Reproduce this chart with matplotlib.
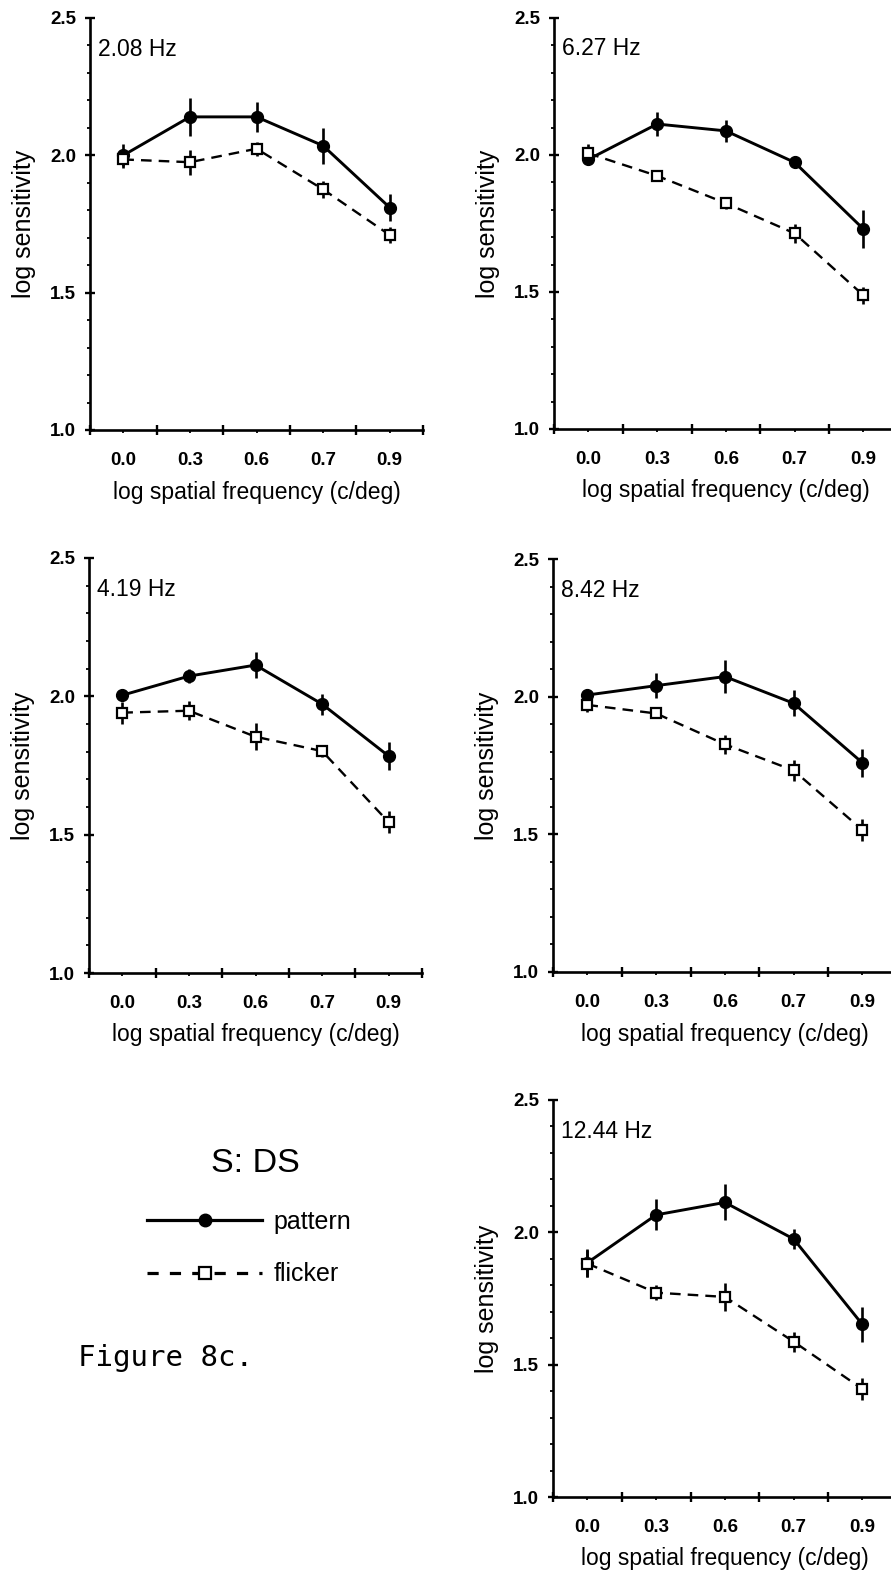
import matplotlib
matplotlib.use("Agg")
import matplotlib.pyplot as plt
from matplotlib.lines import Line2D
from matplotlib.ticker import FixedLocator, MultipleLocator, NullFormatter, FixedFormatter, FormatStrFormatter

plt.rcParams['font.family'] = ['Liberation Sans', 'DejaVu Sans']

# ---- data ----
sf_labels = ["0.0", "0.3", "0.6", "0.7", "0.9"]
panel_titles = ["2.08 Hz", "6.27 Hz", "4.19 Hz", "8.42 Hz", "12.44 Hz"]

pattern_208 = [2.00, 2.14, 2.14, 2.035, 1.81]
pattern_208_err = [0.04, 0.07, 0.055, 0.065, 0.05]
flicker_208 = [1.985, 1.975, 2.024, 1.876, 1.71]
flicker_208_err = [0.03, 0.045, 0.025, 0.03, 0.03]

pattern_627 = [1.984, 2.113, 2.088, 1.973, 1.73]
pattern_627_err = [0.02, 0.045, 0.04, 0.02, 0.07]
flicker_627 = [2.006, 1.924, 1.824, 1.714, 1.488]
flicker_627_err = [0.035, 0.015, 0.02, 0.035, 0.03]

pattern_419 = [2.004, 2.073, 2.113, 1.972, 1.784]
pattern_419_err = [0.02, 0.025, 0.048, 0.038, 0.05]
flicker_419 = [1.941, 1.948, 1.854, 1.802, 1.545]
flicker_419_err = [0.04, 0.035, 0.048, 0.02, 0.04]

pattern_842 = [2.006, 2.04, 2.073, 1.976, 1.76]
pattern_842_err = [0.015, 0.045, 0.06, 0.048, 0.05]
flicker_842 = [1.97, 1.939, 1.827, 1.732, 1.516]
flicker_842_err = [0.025, 0.015, 0.035, 0.038, 0.04]

pattern_1244 = [1.885, 2.066, 2.113, 1.975, 1.652]
pattern_1244_err = [0.053, 0.059, 0.068, 0.037, 0.065]
flicker_1244 = [1.882, 1.772, 1.756, 1.587, 1.408]
flicker_1244_err = [0.05, 0.028, 0.052, 0.038, 0.042]

W, H = 891, 1594
fig = plt.figure(figsize=(W / 100, H / 100), dpi=100)

LW_L = 333.0
LW_R = 343.75
panels = [
    (panel_titles[0], pattern_208, pattern_208_err, flicker_208, flicker_208_err, (90, 18, LW_L, 430)),
    (panel_titles[1], pattern_627, pattern_627_err, flicker_627, flicker_627_err, (554, 18, LW_R, 429)),
    (panel_titles[2], pattern_419, pattern_419_err, flicker_419, flicker_419_err, (89, 558, LW_L, 973)),
    (panel_titles[3], pattern_842, pattern_842_err, flicker_842, flicker_842_err, (553, 559, LW_R, 972)),
    (panel_titles[4], pattern_1244, pattern_1244_err, flicker_1244, flicker_1244_err, (553, 1100, LW_R, 1497)),
]

dash = (0, (4.5, 3.0))
xs = list(range(len(sf_labels)))

for title, pat, pat_e, fl, fl_e, (xl, yt, wpx, yb) in panels:
    hpx = yb - yt
    ax = fig.add_axes([xl / W, 1 - yb / H, wpx / W, hpx / H])
    ax.errorbar(xs, pat, yerr=pat_e, color='black', lw=2.1, elinewidth=1.9,
                capsize=0, marker='o', ms=8.5, mfc='black', mec='black', zorder=3)
    ax.errorbar(xs, fl, yerr=fl_e, color='black', lw=1.7, elinewidth=1.9,
                capsize=0, marker='s', ms=7.5, mfc='white', mec='black', mew=1.6,
                linestyle=dash, zorder=4)
    ax.set_xlim(-0.5, 4.5)
    ax.set_ylim(1.0, 2.5)
    for s in ['top', 'right']:
        ax.spines[s].set_visible(False)
    for s in ['left', 'bottom']:
        ax.spines[s].set_linewidth(1.9)
    ax.xaxis.set_major_locator(FixedLocator([-0.5, 0.5, 1.5, 2.5, 3.5, 4.5]))
    ax.xaxis.set_major_formatter(NullFormatter())
    ax.xaxis.set_minor_locator(FixedLocator(xs))
    ax.xaxis.set_minor_formatter(FixedFormatter(sf_labels))
    ax.tick_params(axis='x', which='major', direction='inout', length=7, width=1.7)
    ax.tick_params(axis='x', which='minor', direction='out', length=2.5, width=1.3,
                   pad=13, labelsize=13.5)
    ax.yaxis.set_major_locator(MultipleLocator(0.5))
    ax.yaxis.set_minor_locator(MultipleLocator(0.1))
    ax.yaxis.set_major_formatter(FormatStrFormatter('%.1f'))
    ax.tick_params(axis='y', which='major', direction='inout', length=7, width=1.7,
                   pad=6.5, labelsize=13.5)
    ax.tick_params(axis='y', which='minor', direction='out', length=2.5, width=1.3)
    for lab in ax.get_xticklabels(minor=True) + ax.get_yticklabels():
        lab.set_fontweight('bold')
    ax.set_ylabel("log sensitivity", fontsize=18)
    ax.yaxis.set_label_coords(-66 / wpx, 0.5)
    ax.set_xlabel("log spatial frequency (c/deg)", fontsize=16.5)
    ax.xaxis.set_label_coords(0.5, -62 / hpx)
    ax.xaxis.label.set_va('center')
    ax.yaxis.label.set_va('center')
    ax.text(8 / wpx, 1 - 31 / hpx, title, transform=ax.transAxes,
            ha='left', va='center', fontsize=16.5)

# legend area
fig.text(255 / W, 1 - 1163 / H, "S: DS", ha='center', va='center', fontsize=24.5)
handles = [
    Line2D([], [], color='black', lw=2.3, marker='o', ms=9, mfc='black'),
    Line2D([], [], color='black', lw=2.3, marker='s', ms=8, mfc='white', mew=1.6,
           linestyle=(0, (3.5, 3.5))),
]
fig.legend(handles, ["pattern", "flicker"], loc='center left',
           bbox_to_anchor=(147 / W, 1 - 1248 / H), frameon=False,
           fontsize=18, handlelength=4.6, handletextpad=0.45, labelspacing=1.15,
           borderpad=0, borderaxespad=0)

fig.text(78 / W, 1 - 1358 / H, "Figure 8c.", ha='left', va='center',
         fontsize=21, family='DejaVu Sans Mono')

fig.savefig("out.png", dpi=100)
